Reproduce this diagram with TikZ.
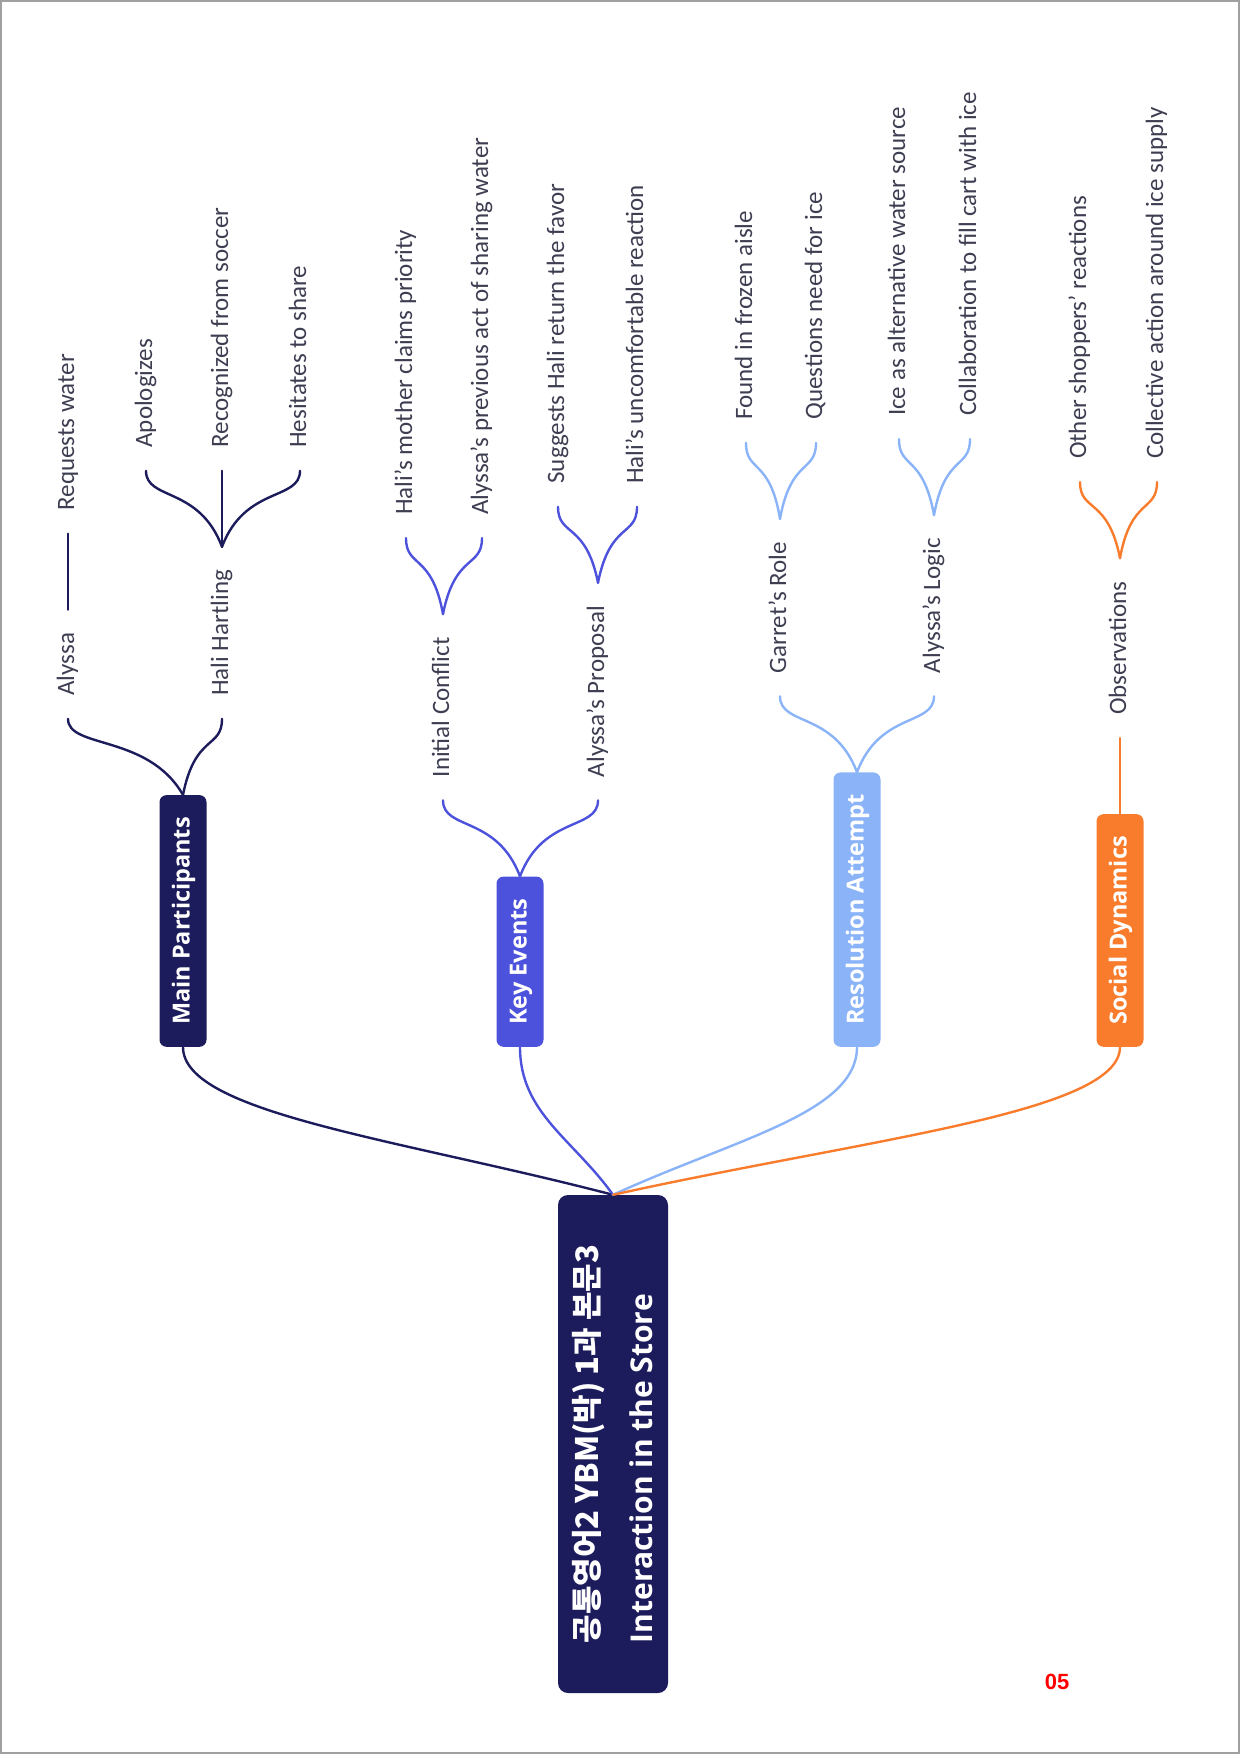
\documentclass[tikz,border=0pt]{standalone}
\usepackage{fontspec}
\usetikzlibrary{calc}
\setmainfont{Carlito}
\newfontfamily\boxf{Open Sans}
\newfontfamily\cjkf{Noto Sans CJK KR}
\newfontfamily\numf{Liberation Sans}
\definecolor{navy}{HTML}{1C1B5B}
\definecolor{keyc}{HTML}{4C52DB}
\definecolor{resc}{HTML}{8AB3F8}
\definecolor{socc}{HTML}{F97C2D}
\definecolor{lblc}{HTML}{3E3E52}
\definecolor{framec}{HTML}{A0A0A0}
\begin{document}
\begin{tikzpicture}[x=1pt,y=-1pt,
 lbl/.style={rotate=90, anchor=west, inner xsep=23pt, inner ysep=0pt, text=lblc,
   font=\fontsize{25}{30}\selectfont, text height=17pt, text depth=5pt},
 topic/.style={rotate=90, anchor=west, rounded corners=7pt, minimum height=47pt,
   inner xsep=22pt, inner ysep=0pt, text=white,
   font=\boxf\bfseries\fontsize{23.5}{28}\selectfont, text height=17pt, text depth=4pt},
 link/.style={line width=2.4pt, line cap=round}
]
\useasboundingbox (0,0) rectangle (1240,1754);
\draw[framec, line width=2pt] (1,1) rectangle (1239,1753);

% root
\node[rotate=90, fill=navy, rounded corners=10pt, minimum width=498pt, minimum height=110pt,
  inner sep=0pt, align=left, text=white, font=\fontsize{30}{54}\selectfont] (root) at (613,1444)
  {{\cjkf\bfseries\fontsize{31}{36}\selectfont 공통영어2 YBM(박) 1과 본문3}\\
   {\boxf\bfseries\fontsize{30}{34}\selectfont Interaction in the Store}};

% main topics
\node[topic, fill=navy] (mp) at (183,1047) {Main Participants};
\node[topic, fill=keyc] (ke) at (520,1047) {Key Events};
\node[topic, fill=resc] (ra) at (857,1047) {Resolution Attempt};
\node[topic, fill=socc] (sd) at (1120,1047) {Social Dynamics};

\draw[link, navy] (root.east) .. controls +(-215,-56) and +(0,66) .. (mp.west);
\draw[link, keyc] (root.east) .. controls +(-40,-56) and +(0,66) .. (ke.west);
\draw[link, resc] (root.east) .. controls +(122,-56) and +(0,66) .. (ra.west);
\draw[link, socc] (root.east) .. controls +(253,-56) and +(0,66) .. (sd.west);

% Main Participants
\node[lbl] (aly) at ($(68,0 |- mp.east)+(0,-76)$) {Alyssa};
\node[lbl] (hal) at ($(222,0 |- mp.east)+(0,-76)$) {Hali Hartling};
\node[lbl] (rw) at ($(68,0 |- aly.east)+(0,-76)$) {Requests water};
\node[lbl] (apo) at ($(146,0 |- hal.east)+(0,-76)$) {Apologizes};
\node[lbl] (rec) at ($(222,0 |- hal.east)+(0,-76)$) {Recognized from soccer};
\node[lbl] (hes) at ($(300,0 |- hal.east)+(0,-76)$) {Hesitates to share};
\draw[link, navy] (mp.east) .. controls +(-35,-61) and +(0,30) .. (aly.west);
\draw[link, navy] (mp.east) .. controls +(12,-61) and +(0,30) .. (hal.west);
\draw[link, navy] (aly.east) -- (rw.west);
\draw[link, navy] (hal.east) .. controls +(-23,-61) and +(0,30) .. (apo.west);
\draw[link, navy] (hal.east) -- (rec.west);
\draw[link, navy] (hal.east) .. controls +(23,-61) and +(0,30) .. (hes.west);

% Key Events
\node[lbl] (ic) at ($(443,0 |- ke.east)+(0,-76)$) {Initial Conflict};
\node[lbl] (ap) at ($(598,0 |- ke.east)+(0,-76)$) {Alyssa’s Proposal};
\node[lbl] (hm) at ($(406,0 |- ic.east)+(0,-76)$) {Hali’s mother claims priority};
\node[lbl] (pa) at ($(482,0 |- ic.east)+(0,-76)$) {Alyssa’s previous act of sharing water};
\node[lbl] (sg) at ($(558,0 |- ap.east)+(0,-76)$) {Suggests Hali return the favor};
\node[lbl] (uc) at ($(637,0 |- ap.east)+(0,-76)$) {Hali’s uncomfortable reaction};
\draw[link, keyc] (ke.east) .. controls +(-23,-61) and +(0,30) .. (ic.west);
\draw[link, keyc] (ke.east) .. controls +(23,-61) and +(0,30) .. (ap.west);
\draw[link, keyc] (ic.east) .. controls +(-11,-61) and +(0,30) .. (hm.west);
\draw[link, keyc] (ic.east) .. controls +(12,-61) and +(0,30) .. (pa.west);
\draw[link, keyc] (ap.east) .. controls +(-12,-61) and +(0,30) .. (sg.west);
\draw[link, keyc] (ap.east) .. controls +(12,-61) and +(0,30) .. (uc.west);

% Resolution Attempt
\node[lbl] (gr) at ($(780,0 |- ra.east)+(0,-76)$) {Garret’s Role};
\node[lbl] (lg) at ($(934,0 |- ra.east)+(0,-76)$) {Alyssa’s Logic};
\node[lbl] (fz) at ($(746,0 |- gr.east)+(0,-76)$) {Found in frozen aisle};
\node[lbl] (qn) at ($(816,0 |- gr.east)+(0,-76)$) {Questions need for ice};
\node[lbl] (ia) at ($(899,0 |- lg.east)+(0,-76)$) {Ice as alternative water source};
\node[lbl] (cf) at ($(970,0 |- lg.east)+(0,-76)$) {Collaboration to fill cart with ice};
\draw[link, resc] (ra.east) .. controls +(-23,-61) and +(0,30) .. (gr.west);
\draw[link, resc] (ra.east) .. controls +(23,-61) and +(0,30) .. (lg.west);
\draw[link, resc] (gr.east) .. controls +(-10,-61) and +(0,30) .. (fz.west);
\draw[link, resc] (gr.east) .. controls +(11,-61) and +(0,30) .. (qn.west);
\draw[link, resc] (lg.east) .. controls +(-11,-61) and +(0,30) .. (ia.west);
\draw[link, resc] (lg.east) .. controls +(11,-61) and +(0,30) .. (cf.west);

% Social Dynamics
\node[lbl] (ob) at ($(1120,0 |- sd.east)+(0,-76)$) {Observations};
\node[lbl] (os) at ($(1080,0 |- ob.east)+(0,-76)$) {Other shoppers’ reactions};
\node[lbl] (ca) at ($(1157,0 |- ob.east)+(0,-76)$) {Collective action around ice supply};
\draw[link, socc] (sd.east) -- (ob.west);
\draw[link, socc] (ob.east) .. controls +(-12,-61) and +(0,30) .. (os.west);
\draw[link, socc] (ob.east) .. controls +(11,-61) and +(0,30) .. (ca.west);

% page number
\node[text=red, font=\numf\bfseries\fontsize{22}{22}\selectfont, inner sep=0pt] (pg) at (1057,1682) {05};
\end{tikzpicture}
\end{document}
